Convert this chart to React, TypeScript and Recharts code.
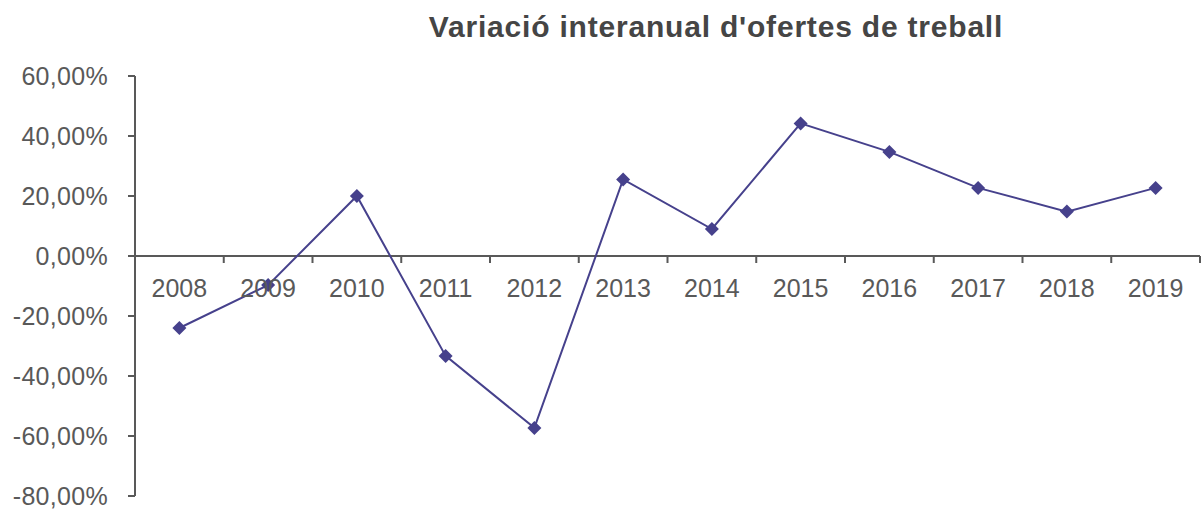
import React from 'react';
import { LineChart, Line, XAxis, YAxis, ReferenceLine } from 'recharts';

const years = ['2008', '2009', '2010', '2011', '2012', '2013', '2014', '2015', '2016', '2017', '2018', '2019'];
const variation = [-24, -9.7, 20, -33.3, -57.3, 25.5, 9, 44.2, 34.7, 22.7, 14.8, 22.7];
const yTicks = [-80, -60, -40, -20, 0, 20, 40, 60];

const data = years.map((year, i) => ({ year, value: variation[i] }));

const W = 1203;
const H = 511;
const X_AXIS_H = 15;
const margin = { top: 76, right: 3, bottom: 0, left: 0 };
const Y_MIN = -80;
const Y_MAX = 60;
const plotH = H - margin.top - margin.bottom - X_AXIS_H;
const plotW = W - 135 - margin.right;
const band = plotW / years.length;
const zeroFromBottom = (plotH * (0 - Y_MIN)) / (Y_MAX - Y_MIN);

const AXIS = '#595959';
const LINE = '#46418C';
const FONT = '"Liberation Sans", Arial, sans-serif';

const fmt = (v: number) => `${v.toFixed(2).replace('.', ',')}%`;

function YearTick(props: any) {
  const { x, y, payload } = props;
  const zy = y - zeroFromBottom;
  return (
    <g>
      <line x1={x + band / 2} y1={zy} x2={x + band / 2} y2={zy + 7} stroke={AXIS} strokeWidth={2} />
      <text x={x} y={zy + 41} textAnchor="middle" fill={AXIS} fontSize={25} fontFamily={FONT}>
        {payload.value}
      </text>
    </g>
  );
}

function Diamond(props: any) {
  const { cx, cy, index } = props;
  const r = 7;
  return (
    <polygon
      key={`d-${index}`}
      points={`${cx},${cy - r} ${cx + r},${cy} ${cx},${cy + r} ${cx - r},${cy}`}
      fill={LINE}
    />
  );
}

export default function App() {
  return (
    <div style={{ position: 'absolute', left: 0, top: 0, width: W, height: H, background: '#fff' }}>
      <div
        style={{
          position: 'absolute',
          left: 0,
          top: 10,
          width: 1432,
          textAlign: 'center',
          fontFamily: FONT,
          fontWeight: 'bold',
          fontSize: 30,
          letterSpacing: 0.8,
          color: '#454545',
          lineHeight: '34px',
        }}
      >
        Variació interanual d'ofertes de treball
      </div>
      <LineChart width={W} height={H} data={data} margin={margin}>
        <XAxis
          dataKey="year"
          scale="band"
          height={X_AXIS_H}
          axisLine={false}
          tickLine={false}
          tickSize={0}
          tickMargin={0}
          interval={0}
          tick={<YearTick />}
        />
        <YAxis
          width={135}
          domain={[Y_MIN, Y_MAX]}
          ticks={yTicks}
          tickFormatter={fmt}
          axisLine={{ stroke: AXIS, strokeWidth: 2 }}
          tickLine={{ stroke: AXIS, strokeWidth: 2 }}
          tickSize={7}
          tickMargin={20}
          tick={{ fill: AXIS, fontSize: 25, fontFamily: FONT, letterSpacing: 0.3 }}
        />
        <ReferenceLine y={0} stroke={AXIS} strokeWidth={2} />
        <Line
          dataKey="value"
          stroke={LINE}
          strokeWidth={2}
          dot={Diamond}
          activeDot={false}
          isAnimationActive={false}
        />
      </LineChart>
    </div>
  );
}
